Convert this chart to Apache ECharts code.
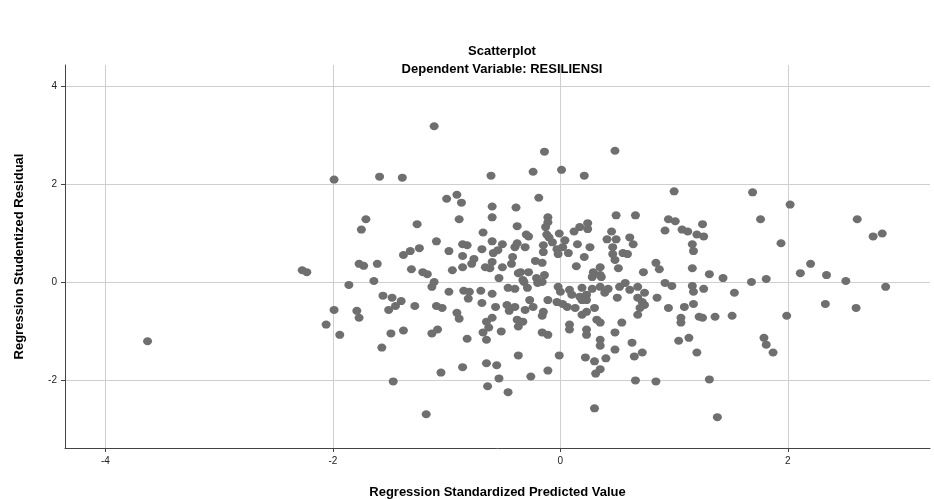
<!DOCTYPE html>
<html>
<head>
<meta charset="utf-8">
<script src="https://cdn.jsdelivr.net/npm/echarts@6/dist/echarts.min.js"></script>
<style>
html,body{margin:0;padding:0;background:#fff;}
#chart{width:934px;height:499px;}
</style>
</head>
<body>
<div id="chart"></div>
<script>
var chartTitle = 'Scatterplot';
var chartSubtitle = 'Dependent Variable: RESILIENSI';
var xAxisName = 'Regression Standardized Predicted Value';
var yAxisName = 'Regression Studentized Residual';
var xTicks = [-4, -2, 0, 2];
var yTicks = [-2, 0, 2, 4];

var predicted = [
-3.63,-2.27,-2.23,-1.99,-1.59,-1.71,-1.75,-1.77,-1.73,-1.61,
-1.86,-1.64,-1.56,-1.48,-1.99,-1.79,-1.77,-1.51,-2.06,-1.94,
-1.49,-1.57,-1.47,-1.11,-1.39,-0.61,-1.00,-0.91,-0.87,-0.60,
-0.39,-1.26,-0.89,-0.60,-0.38,-0.68,-1.09,-1.24,-1.32,-1.38,
-0.98,-0.86,-0.82,-0.86,-0.76,-0.78,-0.69,-0.60,-0.51,-0.59,
-0.55,-0.40,-0.42,-0.60,-0.66,-0.62,-0.51,-0.43,-1.31,-1.21,
-1.17,-0.95,-0.86,-0.54,-0.37,-1.11,-1.13,-0.98,-0.85,-0.80,
-0.81,-0.70,-0.60,-0.46,-0.40,-1.40,-1.45,-1.28,-1.09,-1.04,
-0.91,-0.89,-0.69,-0.57,-0.47,-0.40,-0.45,-0.60,-0.65,-0.63,
-0.68,-0.65,-0.52,-0.38,-0.37,-1.38,-1.13,-1.08,-0.82,-1.05,
-0.86,-0.65,-0.56,-0.54,-0.64,-0.46,-0.37,-1.18,-0.14,0.48,
-0.24,0.01,0.21,-0.19,0.49,0.66,-0.11,-0.11,-0.13,0.24,
0.24,0.17,0.12,-0.01,-0.12,-0.30,-0.28,-0.10,0.45,0.41,
0.49,0.61,0.64,0.46,-0.38,-0.31,-0.07,0.04,0.02,0.15,
0.26,-0.15,-0.15,-0.03,-0.02,0.07,0.46,0.55,0.59,0.21,
0.48,-0.22,-0.16,0.14,0.35,0.51,0.29,-0.35,-0.28,0.35,
-0.21,-0.14,-0.16,-0.32,0.73,-0.33,-0.20,-0.29,-0.02,0.00,
0.08,0.19,0.28,0.35,0.42,0.52,0.57,0.61,0.68,0.28,
0.36,0.10,0.17,0.23,0.19,0.23,0.39,0.50,0.68,0.72,
-0.27,-0.24,-0.31,-0.11,-0.03,0.02,0.06,0.13,-0.15,-0.16,
0.19,0.23,0.30,-0.33,0.32,0.35,0.68,0.54,0.08,0.08,
0.23,0.23,-0.16,-0.11,0.48,0.35,0.35,0.63,0.48,0.72,
0.65,-0.01,0.22,0.30,0.40,0.35,0.31,-0.11,-0.26,0.66,
0.30,1.00,1.69,1.76,0.95,1.01,0.92,1.07,1.12,1.20,
1.26,1.25,1.16,1.17,0.84,0.87,1.16,1.31,1.43,1.68,
1.81,0.92,0.98,1.16,1.17,1.26,1.53,0.74,0.74,0.70,
0.85,0.95,1.09,1.17,1.06,1.06,1.22,1.25,1.36,1.51,
1.04,1.13,1.20,1.79,1.81,0.84,1.31,1.38,2.02,2.61,
2.75,2.83,1.94,2.20,2.11,2.34,2.51,2.86,2.33,2.60,
1.99,1.87
];

var residual = [
-1.21,0.24,0.20,2.09,2.15,1.28,1.07,0.37,0.33,0.37,
-0.06,0.02,-0.28,-0.32,-0.57,-0.59,-0.73,-0.57,-0.87,-1.08,
-1.05,-1.34,-2.03,3.18,2.13,2.17,1.70,1.78,1.62,1.54,
1.52,1.18,1.28,1.32,1.14,1.01,0.83,0.69,0.63,0.55,
0.63,0.77,0.75,0.53,0.47,0.37,0.67,0.83,0.77,0.59,
0.65,0.71,0.51,0.41,0.30,0.28,0.30,0.37,0.26,0.20,
0.16,0.24,0.30,0.08,0.18,0.00,-0.10,-0.20,-0.18,-0.20,
-0.34,-0.18,-0.24,-0.12,-0.14,-0.39,-0.49,-0.49,-0.49,-0.53,
-0.63,-0.75,-0.43,-0.51,-0.47,-0.51,-0.59,-0.73,-0.81,-0.93,
-1.03,-1.18,-1.01,-0.77,-0.91,-0.99,-1.05,-0.97,-1.16,-1.85,
-1.74,-1.66,-1.70,-1.97,-2.13,-2.25,-1.50,-2.70,2.66,2.68,
2.25,2.29,2.17,1.72,1.36,1.36,1.32,1.22,1.12,1.20,
1.08,1.12,1.03,0.99,0.97,0.97,0.93,0.91,1.03,0.87,
0.87,0.91,0.77,0.71,0.79,0.71,0.81,0.85,0.71,0.77,
0.71,0.75,0.61,0.67,0.57,0.59,0.57,0.59,0.57,0.51,
0.45,0.43,0.39,0.32,0.30,0.28,0.20,0.20,0.20,0.14,
0.08,0.14,0.00,0.00,0.20,0.04,-0.02,-0.12,-0.10,-0.20,
-0.16,-0.12,-0.14,-0.10,-0.14,-0.10,-0.02,-0.16,-0.10,0.10,
0.10,-0.26,-0.30,-0.26,-0.37,-0.37,-0.22,-0.32,-0.32,-0.41,
-0.37,-0.51,-0.57,-0.37,-0.41,-0.45,-0.51,-0.53,-0.61,-0.69,
-0.67,-0.61,-0.53,-0.81,-0.77,-0.83,-0.67,-0.83,-0.87,-0.97,
-0.97,-1.08,-1.03,-1.08,-1.03,-1.18,-1.30,-1.24,-1.38,-1.44,
-1.52,-1.50,-1.54,-1.62,-1.56,-1.78,-1.87,-1.81,-1.93,-2.01,
-2.58,1.85,1.83,1.28,1.28,1.24,1.05,1.07,1.03,0.97,
0.93,1.18,0.77,0.63,0.39,0.26,0.28,0.16,0.08,0.00,
0.06,-0.02,-0.08,-0.08,-0.20,-0.14,-0.22,-0.22,-0.47,-0.53,
-0.32,-0.53,-0.51,-0.45,-0.73,-0.83,-0.71,-0.73,-0.71,-0.69,
-1.20,-1.14,-1.44,-1.14,-1.28,-2.03,-1.99,-2.76,1.58,1.28,
0.93,0.99,0.79,0.37,0.18,0.14,0.02,-0.10,-0.45,-0.53,
-0.69,-1.44
];

var points = predicted.map(function (x, i) { return [x, residual[i]]; });

var chart = echarts.init(document.getElementById('chart'), null, {renderer: 'canvas'});
var font = 'Liberation Sans, Arial, sans-serif';
chart.setOption({
  animation: false,
  backgroundColor: '#ffffff',
  title: [
    {text: chartTitle, left: 497, top: 40, textAlign: 'center',
     textStyle: {fontFamily: font, fontSize: 13, fontWeight: 'bold', color: '#000'}},
    {text: chartSubtitle, left: 497, top: 58, textAlign: 'center',
     textStyle: {fontFamily: font, fontSize: 13, fontWeight: 'bold', color: '#000'}}
  ],
  grid: {left: 65, right: 4, top: 65, bottom: 51, containLabel: false, outerBoundsMode: 'none'},
  xAxis: {
    type: 'value', min: -4.356, max: 3.25,
    name: xAxisName, nameLocation: 'middle', nameGap: 38,
    nameTextStyle: {fontFamily: font, fontSize: 13, fontWeight: 'bold', color: '#000'},
    axisLine: {show: true, onZero: false, lineStyle: {color: '#444', width: 1}},
    axisTick: {show: true, length: 4, inside: false, customValues: xTicks, lineStyle: {color: '#444'}},
    axisLabel: {customValues: xTicks, fontFamily: font, fontSize: 10, color: '#222', margin: 8},
    splitLine: {show: true, lineStyle: {color: '#cfcfcf', width: 1}}
  },
  yAxis: {
    type: 'value', min: -3.39, max: 4.43,
    name: yAxisName, nameLocation: 'middle', nameGap: 39, nameRotate: 90,
    nameTextStyle: {fontFamily: font, fontSize: 13, fontWeight: 'bold', color: '#000'},
    axisLine: {show: true, onZero: false, lineStyle: {color: '#444', width: 1}},
    axisTick: {show: true, length: 4, inside: false, customValues: yTicks, lineStyle: {color: '#444'}},
    axisLabel: {customValues: yTicks, fontFamily: font, fontSize: 10, color: '#222', margin: 8},
    splitLine: {show: true, lineStyle: {color: '#cfcfcf', width: 1}}
  },
  series: [{
    type: 'scatter',
    data: points,
    symbol: 'circle',
    symbolSize: [9, 8],
    itemStyle: {color: '#6f6f6f', opacity: 1},
    silent: true
  }]
});
</script>
</body>
</html>
